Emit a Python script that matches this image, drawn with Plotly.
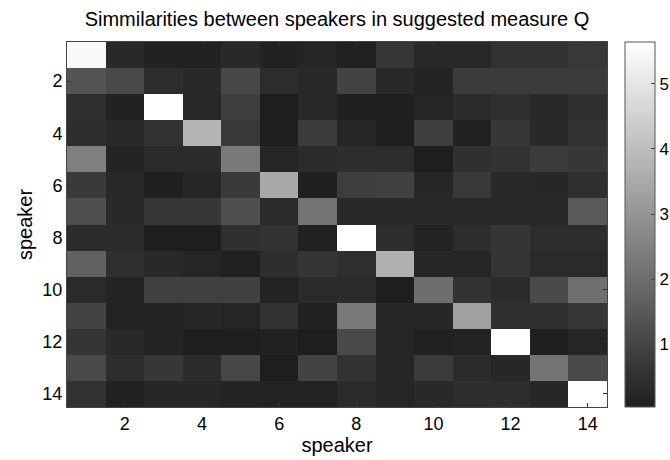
import plotly.graph_objects as go

speakers = list(range(1, 15))
tick_vals = [2, 4, 6, 8, 10, 12, 14]
cbar_ticks = [1, 2, 3, 4, 5]

row01 = [5.50, 0.315, 0.14, 0.14, 0.315, 0.14, 0.215, 0.115, 0.64, 0.29, 0.29, 0.54, 0.54, 0.69]
row02 = [1.39, 1.115, 0.39, 0.315, 1.065, 0.415, 0.315, 0.965, 0.315, 0.19, 0.765, 0.765, 0.765, 0.765]
row03 = [0.465, 0.14, 5.64, 0.29, 0.84, 0.04, 0.315, 0.09, 0.09, 0.215, 0.365, 0.465, 0.315, 0.465]
row04 = [0.44, 0.315, 0.54, 3.79, 0.715, 0.04, 0.765, 0.24, 0.04, 0.815, 0.14, 0.665, 0.315, 0.54]
row05 = [2.465, 0.19, 0.365, 0.365, 2.315, 0.24, 0.34, 0.44, 0.39, 0.04, 0.49, 0.54, 0.79, 0.665]
row06 = [0.74, 0.315, 0.09, 0.24, 0.74, 3.465, 0.09, 0.815, 0.915, 0.265, 0.715, 0.315, 0.265, 0.465]
row07 = [1.265, 0.315, 0.665, 0.665, 1.265, 0.34, 2.165, 0.315, 0.315, 0.315, 0.315, 0.315, 0.315, 1.515]
row08 = [0.365, 0.365, 0.04, 0.04, 0.465, 0.54, 0.115, 5.64, 0.415, 0.165, 0.415, 0.615, 0.415, 0.415]
row09 = [1.715, 0.465, 0.315, 0.215, 0.115, 0.44, 0.615, 0.465, 3.665, 0.24, 0.24, 0.59, 0.34, 0.34]
row10 = [0.34, 0.165, 0.89, 0.89, 0.89, 0.165, 0.365, 0.365, 0.04, 2.015, 0.54, 0.365, 1.115, 2.065]
row11 = [0.965, 0.165, 0.165, 0.265, 0.215, 0.54, 0.115, 2.315, 0.265, 0.265, 3.265, 0.465, 0.465, 0.665]
row12 = [0.615, 0.315, 0.165, 0.065, 0.065, 0.115, 0.04, 1.115, 0.215, 0.115, 0.165, 5.64, 0.065, 0.215]
row13 = [1.115, 0.415, 0.665, 0.365, 1.065, 0.04, 0.965, 0.54, 0.215, 0.765, 0.365, 0.265, 2.165, 1.115]
row14 = [0.54, 0.115, 0.265, 0.265, 0.19, 0.165, 0.165, 0.365, 0.215, 0.315, 0.44, 0.415, 0.265, 5.64]

z = [row01, row02, row03, row04, row05, row06, row07,
     row08, row09, row10, row11, row12, row13, row14]

font_family = "Liberation Sans, Arial, sans-serif"

fig = go.Figure(go.Heatmap(
    z=z, x=speakers, y=speakers,
    colorscale=[[0, "rgb(30,30,30)"], [1, "rgb(255,255,255)"]],
    colorbar=dict(
        x=1.0333, xanchor="left", xpad=0,
        y=0.5, yanchor="middle", len=1.0, lenmode="fraction",
        thickness=30, thicknessmode="pixels",
        outlinecolor="#555555", outlinewidth=1,
        tickvals=cbar_ticks, ticks="inside", ticklen=4, tickcolor="#444444",
        tickfont=dict(size=17, color="#000000", family=font_family),
        ypad=0,
    ),
))

fig.update_layout(
    width=670, height=460,
    margin=dict(l=67, r=63, t=42, b=53, autoexpand=False),
    paper_bgcolor="white", plot_bgcolor="white",
    font=dict(family=font_family, size=18, color="#000000"),
    title=dict(text="Simmilarities between speakers in suggested measure Q",
               x=0.503, xanchor="center", xref="container",
               y=0.959, yanchor="middle", yref="container",
               font=dict(size=20, family=font_family, color="#000000")),
)

fig.update_xaxes(
    range=[0.5, 14.5], tickvals=tick_vals, ticks="inside", ticklen=4,
    tickcolor="#333333", showline=True, linecolor="#444444", linewidth=1,
    mirror="ticks", showgrid=False, zeroline=False, automargin=False,
    title=dict(text="speaker", font=dict(size=20), standoff=2),
    tickfont=dict(size=18),
)
fig.update_yaxes(
    range=[14.5, 0.5], tickvals=tick_vals, ticks="inside", ticklen=4,
    tickcolor="#333333", showline=True, linecolor="#444444", linewidth=1,
    mirror="ticks", showgrid=False, zeroline=False, automargin=False,
    title=dict(text="speaker", font=dict(size=20), standoff=4),
    tickfont=dict(size=18),
)

fig.write_html("out.html")
